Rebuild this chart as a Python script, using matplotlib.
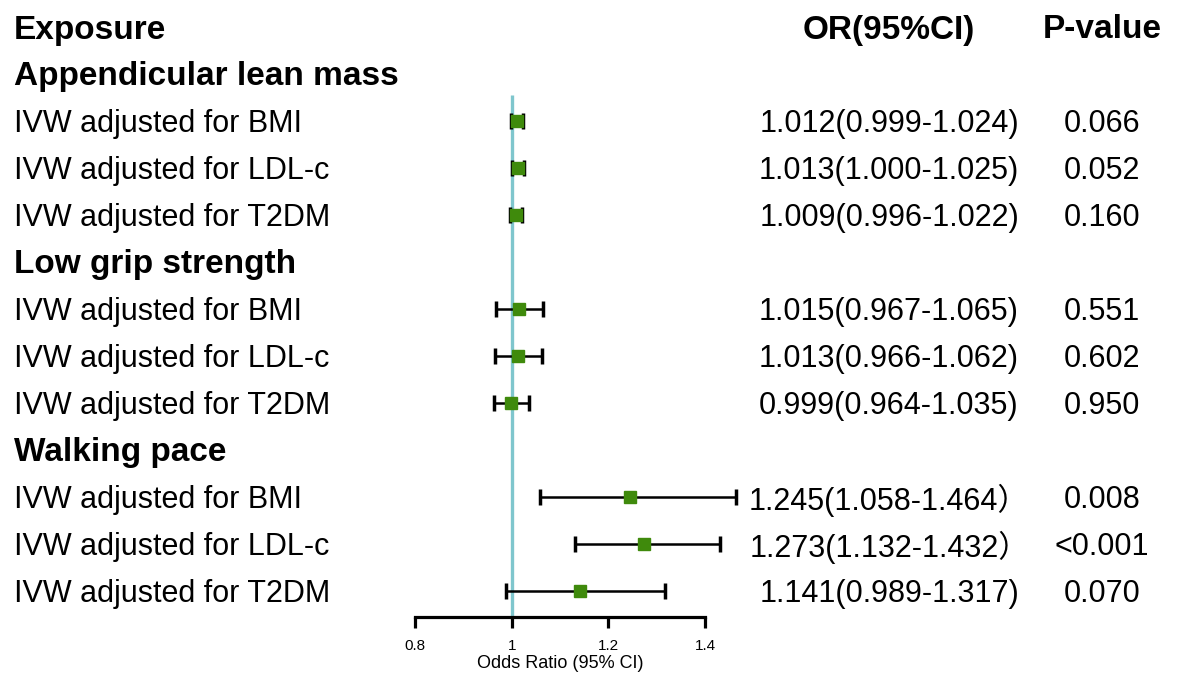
import matplotlib.pyplot as plt

plt.rcParams['font.family'] = ['Liberation Sans', 'Noto Sans CJK SC', 'DejaVu Sans']

groups = ['Appendicular lean mass', 'Low grip strength', 'Walking pace']
methods = ['IVW adjusted for BMI', 'IVW adjusted for LDL-c', 'IVW adjusted for T2DM']

or_val = [1.012, 1.013, 1.009, 1.015, 1.013, 0.999, 1.245, 1.273, 1.141]
ci_lo = [0.999, 1.000, 0.996, 0.967, 0.966, 0.964, 1.058, 1.132, 0.989]
ci_hi = [1.024, 1.025, 1.022, 1.065, 1.062, 1.035, 1.464, 1.432, 1.317]
or_text = ['1.012(0.999-1.024)', '1.013(1.000-1.025)', '1.009(0.996-1.022)',
           '1.015(0.967-1.065)', '1.013(0.966-1.062)', '0.999(0.964-1.035)',
           '1.245(1.058-1.464）', '1.273(1.132-1.432）', '1.141(0.989-1.317)']
p_text = ['0.066', '0.052', '0.160', '0.551', '0.602', '0.950',
          '0.008', '<0.001', '0.070']
xticks = [0.8, 1.0, 1.2, 1.4]
xtick_labels = ['0.8', '1', '1.2', '1.4']

W, H = 1183, 673
fig = plt.figure(figsize=(W / 100, H / 100), dpi=100)

# forest axes: x from 0.8 (415px) to 1.4 (705px), bottom spine at 617px
top_row = -27 / 47
bot_row = (617 - 27) / 47
ax = fig.add_axes([415 / W, (H - 617) / H, 290 / W, 617 / H])
ax.set_xlim(0.8, 1.4)
ax.set_ylim(bot_row, top_row)

# row layout: 0 = header, then group header + 3 rows each
rows = []
group_rows = []
r = 1
for g in groups:
    group_rows.append(r)
    r += 1
    for m in methods:
        rows.append(r)
        r += 1

green = '#3f8a0c'
teal = '#7fc6cd'

ax.plot([1, 1], [(95 - 27) / 47, bot_row], color=teal, lw=2.4, zorder=1,
        solid_capstyle='butt')

err_lo = [o - l for o, l in zip(or_val, ci_lo)]
err_hi = [h - o for o, h in zip(or_val, ci_hi)]
ax.errorbar(or_val, rows, xerr=[err_lo, err_hi], fmt='none', ecolor='black',
            elinewidth=1.8, capsize=5.5, capthick=2.5, zorder=2, clip_on=False)
ax.plot(or_val, rows, 's', color=green, ms=8, mec=green, zorder=3, clip_on=False)

for s in ['top', 'right', 'left']:
    ax.spines[s].set_visible(False)
ax.spines['bottom'].set_linewidth(2.3)
ax.set_yticks([])
ax.set_xticks(xticks)
ax.set_xticklabels(xtick_labels, fontsize=11)
ax.tick_params(axis='x', direction='out', length=8, width=2.3, pad=8)
ax.set_xlabel('Odds Ratio (95% CI)', fontsize=13, labelpad=1)

def ypos(row):
    return 1 - (30 + 47 * row) / H

x_left = 14 / W
x_or = 889 / W
x_p = 1102 / W

fig.text(x_left, ypos(0), 'Exposure', fontsize=24, fontweight='bold', va='center')
fig.text(x_or, ypos(0), 'OR(95%CI)', fontsize=24, fontweight='bold', va='center', ha='center')
fig.text(x_p, ypos(0), 'P-value', fontsize=24, fontweight='bold', va='center', ha='center')

for g, gr in zip(groups, group_rows):
    fig.text(x_left, ypos(gr), g, fontsize=24, fontweight='bold', va='center')

for i, row in enumerate(rows):
    fig.text(x_left, ypos(row), methods[i % 3], fontsize=22, va='center')
    fig.text(x_or, ypos(row), or_text[i], fontsize=22, va='center', ha='center')
    fig.text(x_p, ypos(row), p_text[i], fontsize=22, va='center', ha='center')

fig.savefig('out.png', dpi=100)
